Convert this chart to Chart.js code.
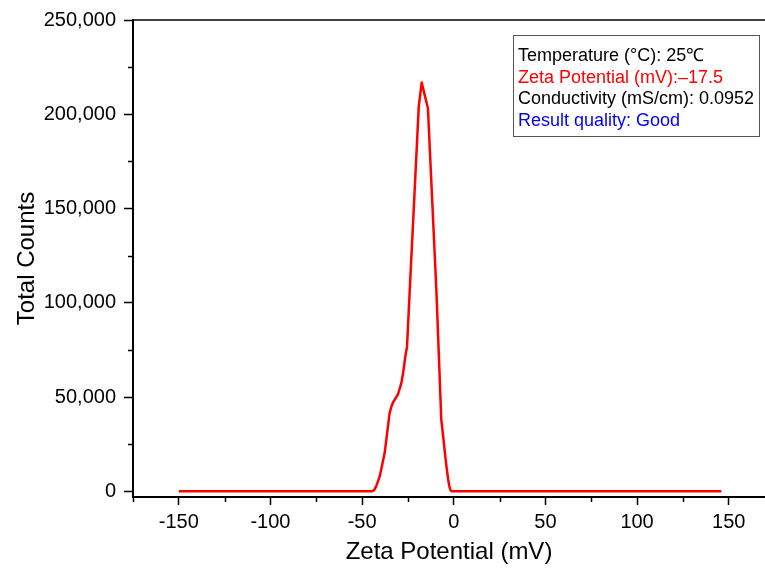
<!DOCTYPE html>
<html>
<head>
<meta charset="utf-8">
<script src="https://cdn.jsdelivr.net/npm/chart.js@4"></script>
<style>
  html, body { margin: 0; padding: 0; background: #fff; }
  #wrap { width: 765px; height: 574px; }
</style>
</head>
<body>
<div id="wrap"><canvas id="grafico" width="765" height="574"></canvas></div>
<script>
// valores
const zetaMv = [-150, -44.8, -43.8, -43.0, -42.2, -40.4, -37.7, -35.0, -34.0, -33.2, -31.8, -30.4, -28.6, -27.6, -26.5, -25.5, -24.0, -19.1, -17.5, -14.1, -9.5, -6.8, -4.0, -3.0, -2.3, -1.7, -1.1, 146];
const totalCounts = [0, 0, 400, 1300, 3000, 7900, 20300, 41500, 45000, 47000, 49300, 51500, 57400, 63000, 71000, 76800, 107000, 204000, 216800, 203200, 106900, 38000, 13250, 6000, 2200, 500, 0, 0];

const xTicks = [-175, -150, -125, -100, -75, -50, -25, 0, 25, 50, 75, 100, 125, 150];
const yTicks = [0, 25000, 50000, 75000, 100000, 125000, 150000, 175000, 200000, 225000, 250000];

const infoLines = [
  { text: 'Temperature (°C): 25℃', color: '#000000' },
  { text: 'Zeta Potential (mV):\u201317.5', color: '#ff0000' },
  { text: 'Conductivity (mS/cm): 0.0952', color: '#000000' },
  { text: 'Result quality: Good', color: '#0000ff' }
];

const FONT = '"Liberation Sans", Arial, sans-serif';

const isMajorX = v => v % 50 === 0;
const isMajorY = v => v % 50000 === 0;

// ticks menores, linha superior e caixa de informações
const extras = {
  id: 'extras',
  afterDraw(chart) {
    const ctx = chart.ctx;
    const { left, right, top, bottom } = chart.chartArea;
    const sx = chart.scales.x, sy = chart.scales.y;
    ctx.save();
    ctx.strokeStyle = '#000';
    ctx.lineWidth = 1.5;
    ctx.beginPath();
    xTicks.filter(v => !isMajorX(v)).forEach(v => {
      const px = Math.round(sx.getPixelForValue(v)) + 0.5;
      ctx.moveTo(px, bottom);
      ctx.lineTo(px, bottom + 5);
    });
    yTicks.filter(v => !isMajorY(v)).forEach(v => {
      const py = Math.round(sy.getPixelForValue(v)) + 0.5;
      ctx.moveTo(left, py);
      ctx.lineTo(left - 5, py);
    });
    ctx.stroke();

    ctx.lineWidth = 1.5;
    ctx.beginPath();
    ctx.moveTo(left, top);
    ctx.lineTo(right, top);
    ctx.stroke();

    // caixa
    ctx.fillStyle = '#fff';
    ctx.fillRect(513.5, 35.5, 246, 101);
    ctx.strokeStyle = '#555';
    ctx.lineWidth = 1;
    ctx.strokeRect(513.5, 35.5, 246, 101);
    ctx.font = '18px ' + FONT;
    ctx.textBaseline = 'middle';
    ctx.textAlign = 'left';
    infoLines.forEach((l, i) => {
      ctx.fillStyle = l.color;
      ctx.fillText(l.text, 518, 56 + i * 21.7);
    });
    ctx.restore();
  }
};

new Chart(document.getElementById('grafico'), {
  type: 'line',
  data: {
    datasets: [{
      data: zetaMv.map((x, i) => ({ x, y: totalCounts[i] })),
      borderColor: '#ff0000',
      borderWidth: 2.5,
      pointRadius: 0,
      tension: 0,
      borderJoinStyle: 'round',
      fill: false
    }]
  },
  options: {
    responsive: false,
    animation: false,
    layout: { padding: { top: 20, right: 0, left: 0, bottom: 0 } },
    plugins: { legend: { display: false }, tooltip: { enabled: false } },
    scales: {
      x: {
        type: 'linear',
        min: -175,
        max: 169.8,
        afterBuildTicks: s => { s.ticks = xTicks.map(v => ({ value: v })); },
        afterFit: s => { s.height = 77; },
        grid: {
          drawOnChartArea: false,
          drawTicks: true,
          tickLength: 8,
          tickWidth: 1.5,
          tickColor: c => isMajorX(c.tick.value) ? '#000' : 'rgba(0,0,0,0)'
        },
        border: { color: '#000', width: 2 },
        ticks: {
          autoSkip: false,
          maxRotation: 0,
          padding: 5,
          color: '#000',
          font: { family: FONT, size: 20 },
          callback: v => isMajorX(v) ? String(v) : ''
        },
        title: {
          display: true,
          text: 'Zeta Potential (mV)',
          color: '#000',
          font: { family: FONT, size: 24 },
          padding: { top: 0, bottom: 7 }
        }
      },
      y: {
        min: -3000,
        max: 250000,
        afterBuildTicks: s => { s.ticks = yTicks.map(v => ({ value: v })); },
        afterFit: s => { s.width = 133; },
        grid: {
          drawOnChartArea: false,
          drawTicks: true,
          tickLength: 9,
          tickWidth: 1.5,
          tickColor: c => isMajorY(c.tick.value) ? '#000' : 'rgba(0,0,0,0)'
        },
        border: { color: '#000', width: 2 },
        ticks: {
          autoSkip: false,
          padding: 8,
          color: '#000',
          font: { family: FONT, size: 20 },
          callback: v => isMajorY(v) ? v.toLocaleString('en-US') : ''
        },
        title: {
          display: true,
          text: 'Total Counts',
          color: '#000',
          font: { family: FONT, size: 24 },
          padding: { top: 13, bottom: 0 }
        }
      }
    }
  },
  plugins: [extras]
});
</script>
</body>
</html>
